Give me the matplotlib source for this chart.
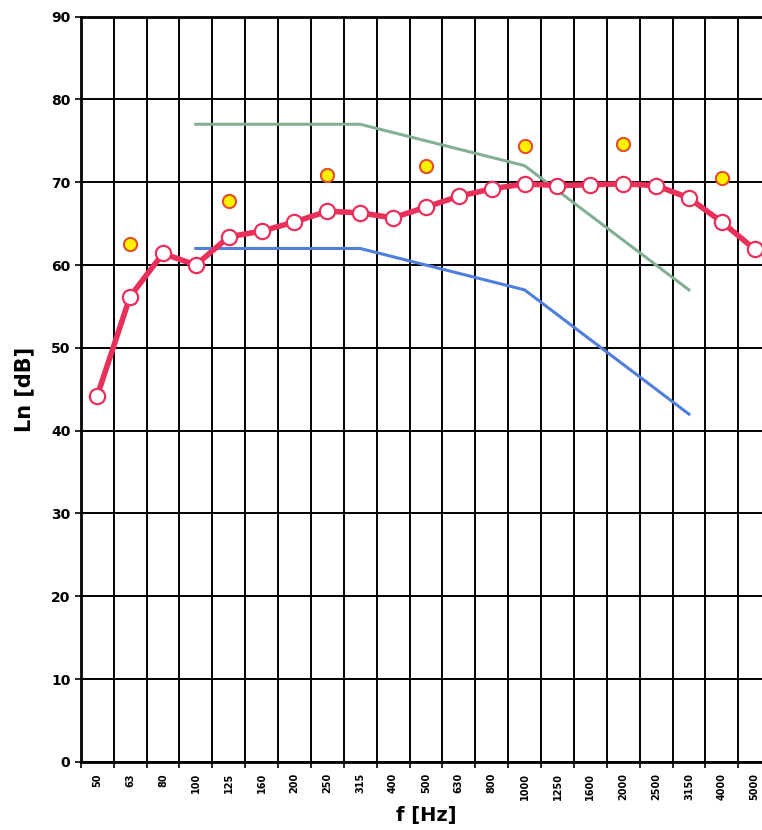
"""
Impact sound level spectrum vs. ISO 717-2 reference curve.
Writes out.png.
"""

import numpy as np
import matplotlib.pyplot as plt

FREQS = ["50", "63", "80", "100", "125", "160", "200", "250", "315", "400",
         "500", "630", "800", "1000", "1250", "1600", "2000", "2500", "3150",
         "4000", "5000"]

# measured third-octave levels
LN_THIRD = [44.2, 56.2, 61.4, 60.0, 63.4, 64.1, 65.2, 66.5, 66.3, 65.7,
            67.0, 68.3, 69.2, 69.8, 69.6, 69.7, 69.8, 69.6, 68.1, 65.2, 61.9]

# octave band levels (only at octave centre frequencies)
nan = np.nan
LN_OCTAVE = [nan, 62.6, nan, nan, 67.7, nan, nan, 70.9, nan, nan,
             71.9, nan, nan, 74.4, nan, nan, 74.6, nan, nan, 70.5, nan]

# reference curve and shifted reference curve
REF_CURVE = [nan, nan, nan, 62, 62, 62, 62, 62, 62, 61, 60, 59, 58, 57,
             54, 51, 48, 45, 42, nan, nan]
REF_SHIFTED = [nan, nan, nan, 77, 77, 77, 77, 77, 77, 76, 75, 74, 73, 72,
               69, 66, 63, 60, 57, nan, nan]

RED = "#e8305a"
BLUE = "#4f7fdc"
GREEN = "#82b093"


def main():
    fig = plt.figure(figsize=(7.62, 8.30), dpi=100)
    ax = fig.add_axes([0.106, 0.082, 0.906, 0.898])
    x = np.arange(len(FREQS))

    ax.plot(x, REF_SHIFTED, color=GREEN, lw=2.2, zorder=3)
    ax.plot(x, REF_CURVE, color=BLUE, lw=2.2, zorder=3)
    ax.plot(x, LN_THIRD, color=RED, lw=4, marker="o", ms=11,
            mfc="white", mec=RED, mew=1.6, zorder=4)
    ax.plot(x, LN_OCTAVE, ls="none", marker="o", ms=9.5,
            mfc="#fff000", mec="#e0502a", mew=1.5, zorder=5)

    ax.set_xlim(-0.5, len(FREQS) - 0.5)
    ax.set_ylim(0, 90)

    # labels at band centres, ticks and grid at band edges
    ax.set_xticks(x)
    ax.set_xticklabels(FREQS, rotation=90, fontsize=7, fontweight="bold")
    ax.set_xticks(np.arange(len(FREQS) + 1) - 0.5, minor=True)
    ax.tick_params(axis="x", which="major", length=0, pad=8)
    ax.tick_params(axis="x", which="minor", length=4, width=1.2)
    ax.set_yticks(np.arange(0, 91, 10))
    ax.tick_params(axis="y", length=4, width=1.2, labelsize=10)
    for lab in ax.get_yticklabels():
        lab.set_fontweight("bold")

    ax.grid(True, which="minor", axis="x", color="black", lw=1.4)
    ax.grid(True, which="major", axis="y", color="black", lw=1.4)
    for s in ax.spines.values():
        s.set_linewidth(2)

    ax.set_ylabel("Ln [dB]", fontsize=15, fontweight="bold", labelpad=12)
    ax.set_xlabel("f [Hz]", fontsize=14, fontweight="bold", labelpad=4)

    fig.savefig("out.png", dpi=100)
    plt.close(fig)


if __name__ == "__main__":
    main()
